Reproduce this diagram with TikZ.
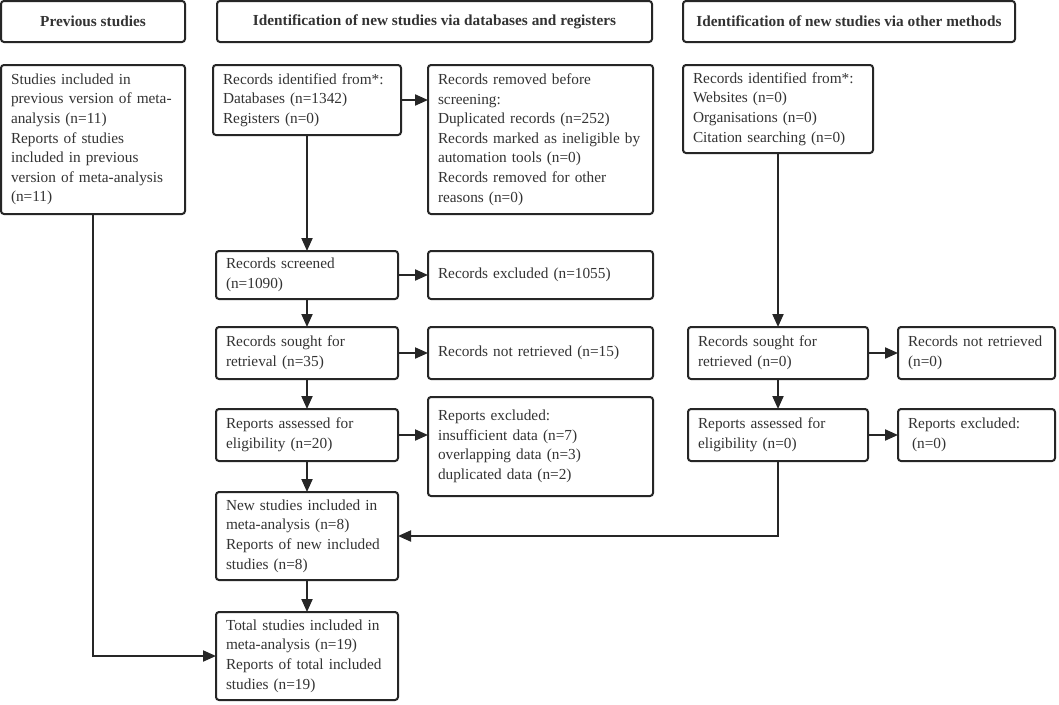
\documentclass[tikz,border=0pt]{standalone}
\usepackage{fontspec}
\setmainfont{Liberation Serif}
\usetikzlibrary{arrows.meta}
\definecolor{ink}{HTML}{262626}
\definecolor{txt}{HTML}{333333}
\tikzset{
  pbox/.style={draw=ink, line width=2pt, rounded corners=3pt, fill=white, text=txt,
    font=\fontsize{15.3}{19.6}\selectfont, align=left, inner xsep=10pt, inner ysep=0pt, outer sep=0pt},
  phead/.style={pbox, font=\fontsize{15.3}{19.6}\selectfont\bfseries, align=center},
  arr/.style={draw=ink, line width=2pt, -{Triangle[length=13pt,width=11pt]}}
}
\newcommand\pnode[7]{%
  \pgfmathsetmacro\bw{#5-#3}\pgfmathsetmacro\bh{#6-#4}\pgfmathsetmacro\tw{#5-#3-20}%
  \node[#2, minimum width=\bw pt, minimum height=\bh pt, text width=\tw pt, anchor=north west] (#1) at (#3,#4) {#7};}
\newcommand\phnode[6]{%
  \pgfmathsetmacro\bw{#4-#2}\pgfmathsetmacro\bh{#5-#3}%
  \node[phead, minimum width=\bw pt, minimum height=\bh pt, anchor=north west] (#1) at (#2,#3) {#6};}
\begin{document}
\begin{tikzpicture}[x=1pt,y=-1pt]
\useasboundingbox[fill=white] (0,0) rectangle (1059,704);
% headers
\phnode{h1}{1}{1}{185}{42}{Previous studies}
\phnode{h2}{217}{1}{652}{42}{Identification of new studies via databases and registers}
\phnode{h3}{683}{1}{1015}{42}{Identification of new studies via other methods}
% boxes
\pnode{prev}{pbox}{1}{65}{185}{214}{Studies included in\\ previous version of meta-\\ analysis (n=11)\\ Reports of studies\\ included in previous\\ version of meta-analysis\\ (n=11)}
\pnode{id}{pbox}{213}{65}{401}{135}{Records identified from*:\\ Databases (n=1342)\\ Registers (n=0)}
\pnode{removed}{pbox}{428}{65}{653}{214}{Records removed before\\ screening:\\ Duplicated records (n=252)\\ Records marked as ineligible by\\ automation tools (n=0)\\ Records removed for other\\ reasons (n=0)}
\pnode{oid}{pbox}{683}{65}{873}{153}{Records identified from*:\\ Websites (n=0)\\ Organisations (n=0)\\ Citation searching (n=0)}
\pnode{screened}{pbox}{216}{251}{398}{299}{Records screened\\ (n=1090)}
\pnode{excluded}{pbox}{428}{251}{653}{299}{Records excluded (n=1055)}
\pnode{sought}{pbox}{216}{327}{398}{379}{Records sought for\\ retrieval (n=35)}
\pnode{notret}{pbox}{428}{327}{653}{379}{Records not retrieved (n=15)}
\pnode{assessed}{pbox}{216}{409}{398}{461}{Reports assessed for\\ eligibility (n=20)}
\pnode{repexcl}{pbox}{428}{397}{653}{496}{Reports excluded:\\ insufficient data (n=7)\\ overlapping data (n=3)\\ duplicated data (n=2)}
\pnode{osought}{pbox}{688}{327}{868}{379}{Records sought for\\ retrieved (n=0)}
\pnode{onotret}{pbox}{898}{327}{1055}{379}{Records not retrieved\\ (n=0)}
\pnode{oassessed}{pbox}{688}{409}{868}{461}{Reports assessed for\\ eligibility (n=0)}
\pnode{oexcl}{pbox}{898}{409}{1055}{461}{Reports excluded:\\ \hspace*{4pt}(n=0)}
\pnode{new}{pbox}{216}{492}{398}{580}{New studies included in\\ meta-analysis (n=8)\\ Reports of new included\\ studies (n=8)}
\pnode{total}{pbox}{216}{612}{398}{700}{Total studies included in\\ meta-analysis (n=19)\\ Reports of total included\\ studies (n=19)}
% connectors
\draw[arr] (id.east) -- (id.east -| removed.west);
\draw[arr] (id.south) -- (screened.north);
\draw[arr] (screened.east) -- (excluded.west);
\draw[arr] (screened.south) -- (sought.north);
\draw[arr] (sought.east) -- (notret.west);
\draw[arr] (sought.south) -- (assessed.north);
\draw[arr] (assessed.east) -- (assessed.east -| repexcl.west);
\draw[arr] (assessed.south) -- (new.north);
\draw[arr] (new.south) -- (total.north);
\draw[arr] (prev.south) |- (total.west);
\draw[arr] (oid.south) -- (osought.north);
\draw[arr] (osought.east) -- (onotret.west);
\draw[arr] (osought.south) -- (oassessed.north);
\draw[arr] (oassessed.east) -- (oexcl.west);
\draw[arr] (oassessed.south) |- (new.east);
\end{tikzpicture}
\end{document}
